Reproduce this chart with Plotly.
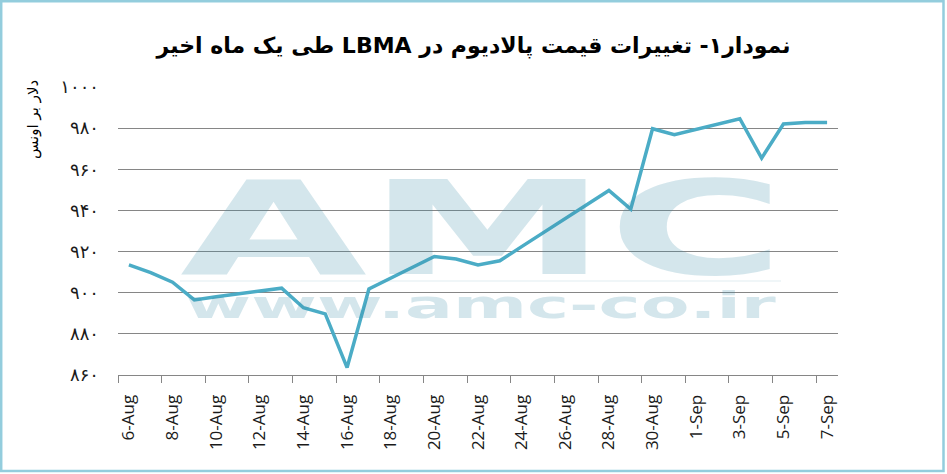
import plotly.graph_objects as go

# LBMA palladium price, USD per ounce (weekdays only)
dates = [
    '2018-08-06', '2018-08-07', '2018-08-08', '2018-08-09', '2018-08-10',
    '2018-08-13', '2018-08-14', '2018-08-15', '2018-08-16', '2018-08-17',
    '2018-08-20', '2018-08-21', '2018-08-22', '2018-08-23', '2018-08-24',
    '2018-08-28', '2018-08-29', '2018-08-30', '2018-08-31',
    '2018-09-03', '2018-09-04', '2018-09-05', '2018-09-06', '2018-09-07'
]
prices = [
    913.5, 909.8, 905.1, 896.5, 898.0,
    902.2, 892.7, 889.7, 863.6, 901.8,
    917.6, 916.4, 913.5, 915.5, 922.4,
    949.7, 940.6, 979.7, 976.8,
    984.6, 965.4, 982.0, 982.8, 982.8
]

# x labels every second day
x_tick_dates = [
    '2018-08-06', '2018-08-08', '2018-08-10', '2018-08-12', '2018-08-14',
    '2018-08-16', '2018-08-18', '2018-08-20', '2018-08-22', '2018-08-24',
    '2018-08-26', '2018-08-28', '2018-08-30', '2018-09-01', '2018-09-03',
    '2018-09-05', '2018-09-07'
]
x_tick_labels = [
    '6-Aug', '8-Aug', '10-Aug', '12-Aug', '14-Aug', '16-Aug', '18-Aug',
    '20-Aug', '22-Aug', '24-Aug', '26-Aug', '28-Aug', '30-Aug',
    '1-Sep', '3-Sep', '5-Sep', '7-Sep'
]

y_tick_values = [860, 880, 900, 920, 940, 960, 980, 1000]
y_tick_labels = ['۸۶۰', '۸۸۰', '۹۰۰', '۹۲۰', '۹۴۰', '۹۶۰', '۹۸۰', '۱۰۰۰']

title_text = 'نمودار۱- تغییرات قیمت پالادیوم در LBMA طی یک ماه اخیر'
y_title_text = 'دلار بر اونس'

W, H = 947, 474
L, R, T, B = 118, 838, 87, 375   # plot area in pixels


def px(x):
    return (x - L) / (R - L)


def py(y):
    return (B - y) / (B - T)


fig = go.Figure()

fig.add_trace(go.Scatter(
    x=dates,
    y=prices,
    mode='lines',
    line=dict(color='#4BACC6', width=3.5),
    hoverinfo='x+y',
    showlegend=False
))

watermark = 'rgba(60, 140, 170, 0.22)'

fig.update_layout(
    width=W,
    height=H,
    margin=dict(l=L, r=W - R, t=T, b=H - B),
    paper_bgcolor='white',
    plot_bgcolor='white',
    title=dict(
        # RTL embedding so the Persian runs keep their order around LBMA
        text='<b>\u202b' + title_text + '\u202c</b>',
        x=0.5,
        xanchor='center',
        y=1 - 45 / H,
        yanchor='middle',
        font=dict(family='DejaVu Sans', size=22, color='black')
    ),
    xaxis=dict(
        type='date',
        range=['2018-08-05 12:00', '2018-09-07 12:00'],
        tickmode='array',
        tickvals=x_tick_dates,
        ticktext=x_tick_labels,
        tickangle=-90,
        ticks='',
        ticklabelstandoff=12,
        tickfont=dict(family='Open Sans', size=17, color='#1a1a1a'),
        showgrid=False,
        showline=True,
        linecolor='#868686',
        linewidth=1,
        zeroline=False,
        minor=dict(
            tickmode='linear',
            tick0='2018-08-05 12:00',
            dtick=2 * 86400000,
            ticks='outside',
            ticklen=7,
            tickcolor='#868686',
            tickwidth=1,
            showgrid=False
        )
    ),
    yaxis=dict(
        range=[860, 1000],
        tickmode='array',
        tickvals=y_tick_values,
        ticktext=y_tick_labels,
        ticks='',
        ticklabelstandoff=18,
        tickfont=dict(family='DejaVu Sans', size=18, color='#1a1a1a'),
        showgrid=True,
        gridcolor='#868686',
        gridwidth=1,
        zeroline=False,
        showline=False
    ),
    annotations=[
        # y axis title
        dict(
            text=y_title_text,
            xref='paper', yref='paper',
            x=px(33), y=py(120),
            xanchor='center', yanchor='middle',
            textangle=-90,
            showarrow=False,
            font=dict(family='DejaVu Sans', size=15, color='black')
        ),
        # AMC watermark
        dict(
            text='<b>AMC</b>',
            xref='paper', yref='paper',
            x=px(482), y=py(229),
            xanchor='center', yanchor='middle',
            showarrow=False,
            font=dict(family='DejaVu Sans', size=130, color=watermark)
        ),
        dict(
            text='<b>www.amc-co.ir</b>',
            xref='paper', yref='paper',
            x=px(481), y=py(305),
            xanchor='center', yanchor='middle',
            showarrow=False,
            font=dict(family='DejaVu Sans', size=38, color=watermark)
        )
    ],
    shapes=[
        dict(
            type='line', xref='paper', yref='paper',
            x0=px(180), x1=px(781), y0=py(281), y1=py(281),
            line=dict(color='rgba(60, 140, 170, 0.08)', width=2)
        ),
        # outer frame
        dict(
            type='rect', xref='paper', yref='paper',
            x0=px(1.2), x1=px(943.5), y0=py(471), y1=py(1.2),
            line=dict(color='#93CDDD', width=2.5)
        )
    ]
)

# stretch the watermark text horizontally like the logo
post = """
var gd = document.getElementById('{plot_id}');
document.body.style.margin = '0';
function stretch() {
  gd.querySelectorAll('.annotation-text').forEach(function(t) {
    var s = t.textContent;
    var k = s === 'AMC' ? 1.86 : (s === 'www.amc-co.ir' ? 1.87 : 0);
    if (!k) return;
    t.removeAttribute('transform');
    var b = t.getBBox();
    var cx = b.x + b.width / 2;
    t.setAttribute('transform', 'translate(' + cx + ',0) scale(' + k + ',1) translate(' + (-cx) + ',0)');
  });
}
stretch();
gd.on('plotly_afterplot', stretch);
"""

fig.write_html('out.html', post_script=post, config={'displayModeBar': False})
